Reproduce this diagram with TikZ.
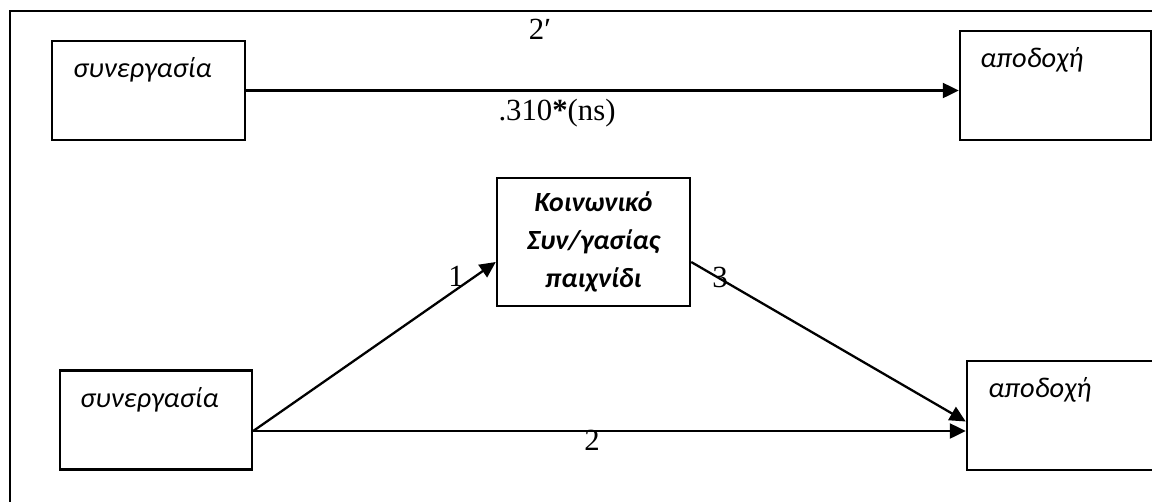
\documentclass[tikz,border=0pt]{standalone}
\usepackage{fontspec}
\setmainfont{Liberation Serif}
\newfontfamily\calibri{Carlito}
\usetikzlibrary{arrows.meta}

\begin{document}
\begin{tikzpicture}[
    x=0.02cm, y=-0.02cm,
    box/.style={rectangle, draw=black, line width=1.4pt, fill=white, inner sep=0pt},
    boxtext/.style={anchor=base west, inner sep=0pt,
        font=\calibri\itshape\fontsize{16.2}{19}\selectfont},
    gametext/.style={align=center,
        font=\calibri\bfseries\itshape\fontsize{15.8}{21.8}\selectfont},
    lbl/.style={inner sep=0pt, font=\fontsize{17.5}{20}\selectfont},
    edge/.style={line width=1.3pt, -{Triangle[length=0.32cm, width=0.3cm]}},
    frame/.style={line width=1.6pt}
]
    \useasboundingbox (0,0) rectangle (1152,501);
    \clip (0,0) rectangle (1152,501);
    \draw[frame] (10,510) |- (1160,11);

    \node[box, minimum width=3.86cm, minimum height=1.98cm] (coopA) at (148.5,90.5) {};
    \node[box, minimum width=3.82cm, minimum height=2.18cm] (acceptA) at (1055.5,85.5) {};
    \node[box, minimum width=3.86cm, minimum height=2.56cm, gametext] (game) at (593.5,242)
        {Κοινωνικό\\Συν/γασίας\\παιχνίδι};
    \node[box, minimum width=3.84cm, minimum height=1.98cm] (coopB) at (156,420) {};
    \node[box, minimum width=3.78cm, minimum height=2.18cm] (acceptB) at (1061.5,415.5) {};

    \node[boxtext] (coopAtext) at (73,77) {συνεργασία};
    \node[boxtext] (acceptAtext) at (980,67.5) {αποδοχή};
    \node[boxtext] (coopBtext) at (80,407) {συνεργασία};
    \node[boxtext] (acceptBtext) at (988,397) {αποδοχή};

    \draw[edge] (coopA.east) -- (coopA.east -| acceptA.west);
    \draw[edge] ([yshift=-0.22cm]coopB.east) -- ([yshift=-0.4cm]game.west);
    \draw[edge] ([yshift=-0.4cm]game.east) -- ([yshift=-0.12cm]acceptB.west);
    \draw[edge] ([yshift=-0.22cm]coopB.east) -- ([yshift=-0.22cm]coopB.east -| acceptB.west);

    \node[lbl] (lblTotal) at (540,29) {2′};
    \node[lbl] (lblCoef) at (557,113) {.310\textbf{*}(ns)};
    \node[lbl] (lblOne) at (456,276) {1};
    \node[lbl] (lblThree) at (720,277) {3};
    \node[lbl] (lblDirect) at (592,440) {2};
\end{tikzpicture}
\end{document}
